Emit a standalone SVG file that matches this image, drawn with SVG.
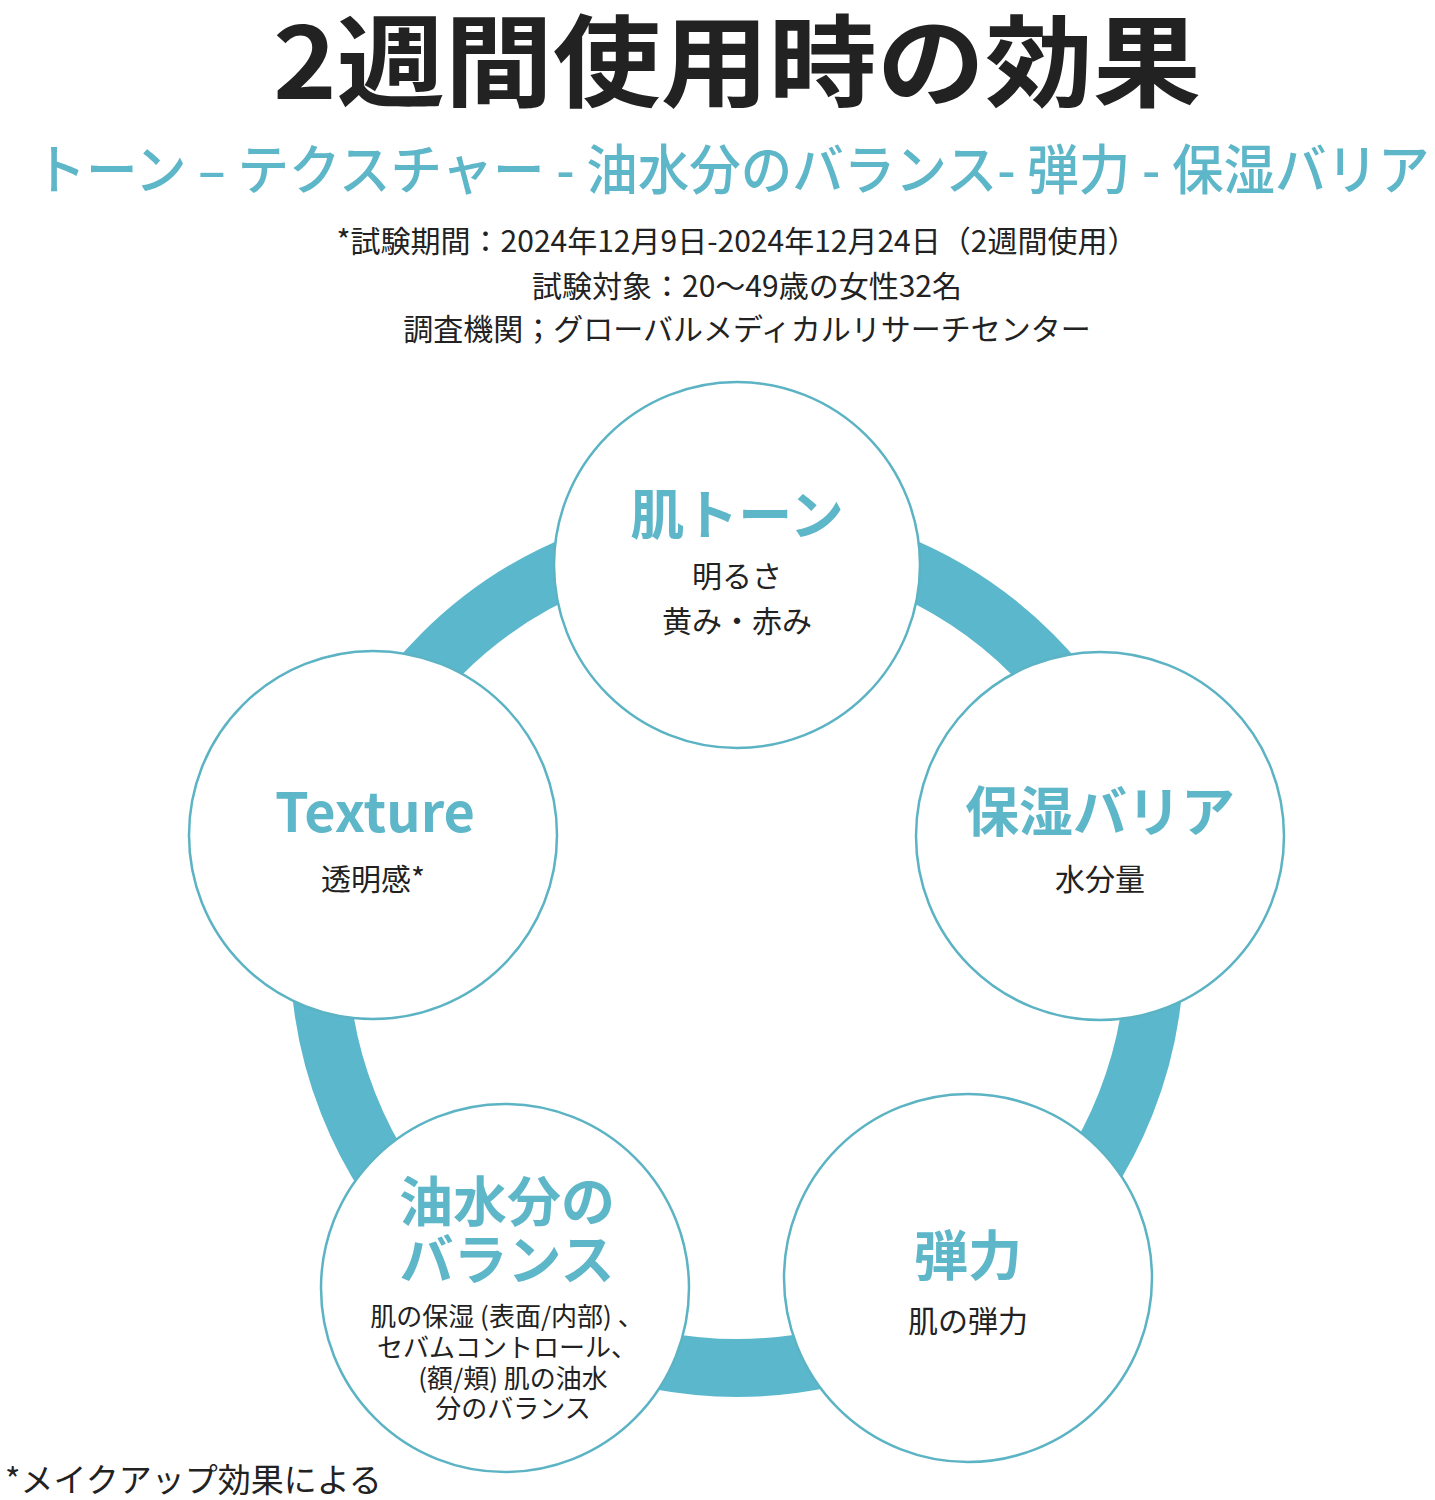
<svg xmlns="http://www.w3.org/2000/svg" width="1435" height="1500" viewBox="0 0 1435 1500">
<style>
text{font-family:"Noto Sans CJK JP","Noto Sans",sans-serif;text-anchor:middle}
.n{fill:#fff;stroke:#5bb3c4;stroke-width:2.5}
.h{fill:#5eb6c9;font-weight:700;font-size:54px}
.b{fill:#222;font-size:30px}
.s{fill:#222;font-size:30px}
.m{fill:#222;font-size:26px}
</style>
<rect width="1435" height="1500" fill="#fff"/>
<text x="737" y="99" font-size="100" font-weight="700" fill="#222" textLength="928" lengthAdjust="spacingAndGlyphs">2週間使用時の効果</text>
<text x="732" y="190" font-size="54" fill="#5eb6c9" font-weight="500" textLength="1395" lengthAdjust="spacingAndGlyphs">トーン – テクスチャー - 油水分のバランス- 弾力 - 保湿バリア</text>
<text x="737" y="252" class="s">*試験期間：2024年12月9日-2024年12月24日（2週間使用）</text>
<text x="747" y="297" class="s">試験対象：20～49歳の女性32名</text>
<text x="747" y="340" class="s">調査機関；グローバルメディカルリサーチセンター</text>
<g id="connectors"><circle cx="737" cy="950" r="418" fill="none" stroke="#5bb8cc" stroke-width="58"/></g>
<g id="n1"><circle class="n" cx="737" cy="565" r="183"/><text x="737" y="535" class="h">肌トーン</text><text x="737" y="587" class="b">明るさ</text><text x="737" y="632" class="b">黄み・赤み</text></g>
<g id="n2"><circle class="n" cx="1100" cy="836" r="184"/><text x="1100" y="832" class="h">保湿バリア</text><text x="1100" y="890" class="b">水分量</text></g>
<g id="n3"><circle class="n" cx="968" cy="1278" r="184"/><text x="968" y="1276" class="h">弾力</text><text x="968" y="1332" class="b">肌の弾力</text></g>
<g id="n4"><circle class="n" cx="505" cy="1288" r="184"/><text x="507" y="1222" class="h">油水分の</text><text x="507" y="1280" class="h">バランス</text><text x="507" y="1326" class="m">肌の保湿 (表面/内部) 、</text><text x="507" y="1357" class="m">セバムコントロール、</text><text x="513" y="1388" class="m">(額/頬) 肌の油水</text><text x="513" y="1418" class="m">分のバランス</text></g>
<g id="n5"><circle class="n" cx="373" cy="835" r="184"/><text x="375" y="832" class="h" font-family="Inter,sans-serif">Texture</text><text x="373" y="890" class="b">透明感*</text></g>
<text x="5" y="1492" style="text-anchor:start;font-size:33px;fill:#222">*メイクアップ効果による</text>
</svg>
